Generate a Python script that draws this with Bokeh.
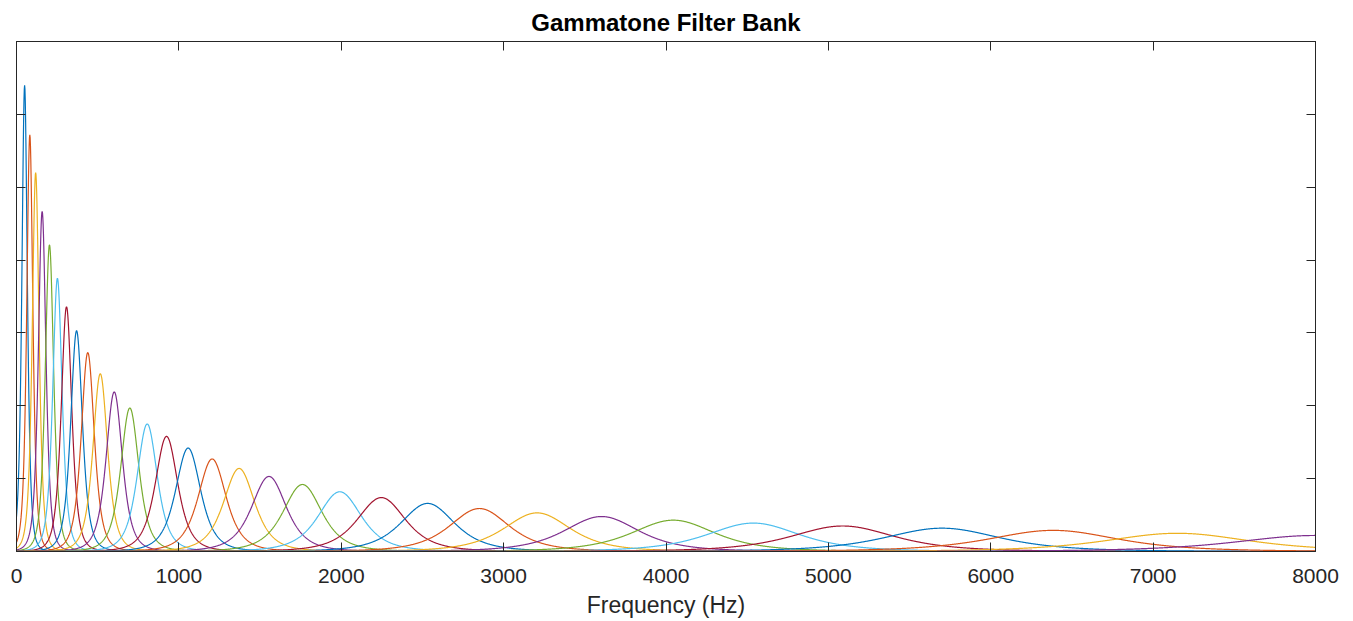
import numpy as np
from bokeh.plotting import figure
from bokeh.models import Range1d, FixedTicker, LinearAxis, Title
from bokeh.embed import file_html
from bokeh.resources import INLINE

# Center frequencies (Hz) of the 32 filters
center_freqs = [50, 82, 118, 158, 203, 252, 308, 370, 439, 516, 602, 698, 805, 924,
                1057, 1205, 1371, 1555, 1761, 1991, 2247, 2532, 2851, 3206, 3603,
                4045, 4538, 5088, 5700, 6385, 7149, 8000]
# Peak magnitudes (axis units, 0..7)
peak_values = [6.40, 5.72, 5.20, 4.67, 4.21, 3.75, 3.36, 3.03, 2.73, 2.44, 2.19, 1.97,
               1.75, 1.58, 1.42, 1.27, 1.14, 1.03, 0.92, 0.82, 0.74, 0.66, 0.59, 0.53,
               0.48, 0.43, 0.39, 0.35, 0.32, 0.29, 0.25, 0.22]
x_ticks = [0, 1000, 2000, 3000, 4000, 5000, 6000, 7000, 8000]
y_ticks = [0, 1, 2, 3, 4, 5, 6, 7]
colors = ["#0072BD", "#D95319", "#EDB120", "#7E2F8E", "#77AC30", "#4DBEEE", "#A2142F"]

FONT = "Liberation Sans"
AX = "#262626"

p = figure(width=1353, height=621, output_backend="svg", toolbar_location=None,
           x_range=Range1d(0, 8000), y_range=Range1d(0, 7),
           min_border_left=16, min_border_right=38, min_border_top=41, min_border_bottom=70)
p.title = Title(text="Gammatone Filter Bank", align="center", text_font=FONT,
                text_font_size="24px", text_font_style="bold", text_color="#000000",
                offset=0, standoff=12)
p.grid.visible = False
p.outline_line_color = AX
p.outline_line_width = 1
p.background_fill_color = "white"
p.border_fill_color = "white"

f = np.linspace(0, 8000, 4001)
for i, (fc, pk) in enumerate(zip(center_freqs, peak_values)):
    b = 1.019 * 24.7 * (4.37 * fc / 1000 + 1)
    resp = pk * (1 + ((f - fc) / b) ** 2) ** -2
    p.line(f, resp, line_color=colors[i % 7], line_width=1.2)

xa = p.xaxis[0]
xa.ticker = FixedTicker(ticks=x_ticks)
xa.axis_label = "Frequency (Hz)"
xa.axis_label_text_font = FONT
xa.axis_label_text_font_size = "23px"
xa.axis_label_text_font_style = "normal"
xa.axis_label_text_color = AX
xa.axis_label_standoff = 6
xa.major_label_text_font = FONT
xa.major_label_text_font_size = "21px"
xa.major_label_text_color = AX
xa.major_label_standoff = 17
xa.major_tick_in = 9
xa.major_tick_out = 0
xa.minor_tick_line_color = None
xa.axis_line_color = AX
xa.major_tick_line_color = AX


def blank_axis(ax, ticks):
    ax.ticker = FixedTicker(ticks=ticks)
    ax.major_label_overrides = {t: "" for t in ticks}
    ax.major_label_standoff = 0
    ax.major_tick_in = 9
    ax.major_tick_out = 0
    ax.minor_tick_line_color = None
    ax.axis_line_color = AX
    ax.major_tick_line_color = AX


blank_axis(p.yaxis[0], y_ticks)
top = LinearAxis()
right = LinearAxis()
blank_axis(top, x_ticks)
blank_axis(right, y_ticks)
p.add_layout(top, "above")
p.add_layout(right, "right")

open("out.html", "w").write(file_html(p, INLINE))
